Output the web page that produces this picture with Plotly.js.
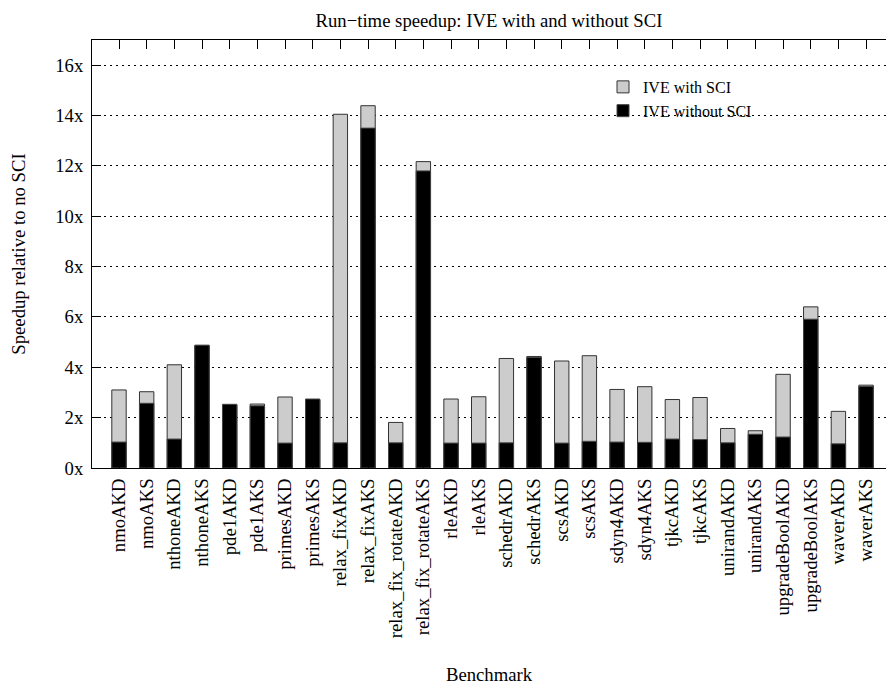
<!DOCTYPE html>
<html>
<head>
<meta charset="utf-8">
<script src="https://cdn.plot.ly/plotly-3.0.1.min.js"></script>
<style>html,body{margin:0;padding:0;background:#fff;}#chart{width:886px;height:685px;}</style>
</head>
<body>
<div id="chart"></div>
<script>
const categories = ["nmoAKD","nmoAKS","nthoneAKD","nthoneAKS","pde1AKD","pde1AKS","primesAKD","primesAKS","relax_fixAKD","relax_fixAKS","relax_fix_rotateAKD","relax_fix_rotateAKS","rleAKD","rleAKS","schedrAKD","schedrAKS","scsAKD","scsAKS","sdyn4AKD","sdyn4AKS","tjkcAKD","tjkcAKS","unirandAKD","unirandAKS","upgradeBoolAKD","upgradeBoolAKS","waverAKD","waverAKS"];
const withSCI = [3.10, 3.03, 4.10, 4.85, 2.50, 2.54, 2.82, 2.70, 14.05, 14.39, 1.81, 12.17, 2.74, 2.83, 4.35, 4.43, 4.25, 4.46, 3.12, 3.23, 2.72, 2.80, 1.57, 1.48, 3.72, 6.40, 2.25, 3.29];
const withoutSCI = [1.03, 2.57, 1.15, 4.88, 2.53, 2.47, 0.99, 2.74, 1.00, 13.50, 1.00, 11.80, 0.99, 0.99, 1.00, 4.39, 0.99, 1.06, 1.03, 1.02, 1.15, 1.13, 1.00, 1.34, 1.23, 5.91, 0.96, 3.24];
const yTickVals = [0, 2, 4, 6, 8, 10, 12, 14, 16];
const yTickText = ["0x","2x","4x","6x","8x","10x","12x","14x","16x"];

const FONT = "Liberation Serif, Times New Roman, serif";
const FS = 18.7;

const traces = [
  {
    type: "bar", name: "IVE with SCI", x: categories, y: withSCI, width: 0.52,
    marker: {color: "#cccccc", line: {color: "#333333", width: 1}}
  },
  {
    type: "bar", name: "IVE without SCI", x: categories, y: withoutSCI, width: 0.52,
    marker: {color: "#000000", line: {color: "#444444", width: 1}}
  }
];

const layout = {
  width: 886, height: 685,
  margin: {l: 92, r: 0, t: 40, b: 217, pad: 0},
  paper_bgcolor: "#ffffff", plot_bgcolor: "#ffffff",
  barmode: "overlay",
  font: {family: FONT, size: FS, color: "#000"},
  title: {text: "Run\u2212time speedup: IVE with and without SCI", font: {family: FONT, size: FS, color: "#000"},
          x: 489/886, xanchor: "center", xref: "container", y: 1 - 20/685, yanchor: "middle", yref: "container"},
  xaxis: {
    type: "category", range: [-0.976, 27.72], autorange: false,
    tickangle: -90, ticks: "inside", ticklen: 9, tickcolor: "#000", tickwidth: 1,
    showline: true, linecolor: "#000", linewidth: 1, mirror: "ticks",
    showgrid: false, zeroline: false,
    tickfont: {family: FONT, size: FS, color: "#000"},
    ticklabelstandoff: 2,
    title: {text: "Benchmark", font: {family: FONT, size: FS, color: "#000"}, standoff: 32},
    automargin: false, fixedrange: true
  },
  yaxis: {
    range: [0, 17], autorange: false,
    tickvals: yTickVals, ticktext: yTickText,
    ticks: "inside", ticklen: 9, tickcolor: "#000", tickwidth: 1,
    showline: true, linecolor: "#000", linewidth: 1,
    showgrid: true, gridcolor: "#000", gridwidth: 1, griddash: "2px,4px",
    zeroline: false,
    tickfont: {family: FONT, size: FS, color: "#000"},
    ticklabelstandoff: 4,
    title: {text: "Speedup relative to no SCI", font: {family: FONT, size: FS, color: "#000"}, standoff: 24},
    automargin: false, fixedrange: true
  },
  showlegend: true,
  legend: {
    x: (603 - 92) / 794, xanchor: "left", y: 0.93, yanchor: "top",
    bgcolor: "rgba(0,0,0,0)", borderwidth: 0, traceorder: "normal",
    font: {family: FONT, size: 16, color: "#000"}, tracegroupgap: 0
  }
};

Plotly.newPlot("chart", traces, layout, {displayModeBar: false, staticPlot: true});
</script>
</body>
</html>
